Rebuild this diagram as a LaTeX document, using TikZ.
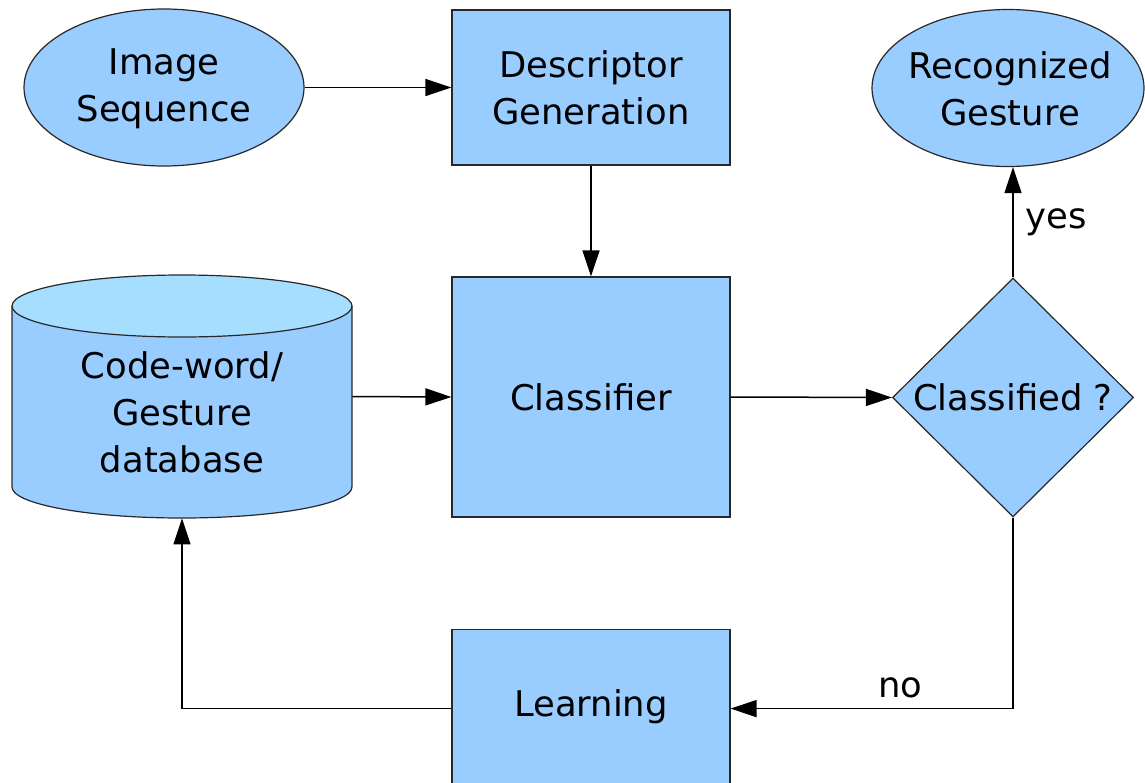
\documentclass[tikz,border=0pt]{standalone}
\usepackage{fontspec}
\setmainfont{DejaVu Sans}
\usetikzlibrary{shapes.geometric,arrows.meta}
\definecolor{boxfill}{RGB}{153,204,255}
\definecolor{topfill}{RGB}{166,222,255}
\definecolor{edgecol}{RGB}{40,40,40}
\begin{document}
\begin{tikzpicture}[x=0.5pt,y=-0.5pt,
  every node/.style={font=\fontsize{17.7pt}{23.5pt}\selectfont},
  shapebox/.style={draw=edgecol,line width=0.6pt,fill=boxfill,inner sep=0pt},
  procbox/.style={shapebox,rectangle,minimum width=139pt},
  termell/.style={shapebox,ellipse},
  txt/.style={align=center,inner sep=0pt},
  conn/.style={line width=0.75pt,-{Triangle[length=13pt,width=8.5pt]}}]
\useasboundingbox (0,0) rectangle (1145,782);
% nodes
\node[termell,minimum width=140pt,minimum height=78.5pt] (img) at (164,87.5) {};
\node[txt] (imgt) at (164,89) {Image\\Sequence};
\node[procbox,minimum height=77.5pt,txt,draw=edgecol,fill=boxfill] (desc) at (591,87.5) {Descriptor\\Generation};
\node[termell,minimum width=136pt,minimum height=78.5pt] (rec) at (1008,88) {};
\node[txt] (rect) at (1010,89) {Recognized\\Gesture};
\node[procbox,minimum height=120pt] (cls) at (591,397) {Classifier};
\node[shapebox,diamond,minimum width=120.5pt,minimum height=119.5pt,aspect=1] (dec) at (1013,397.5) {};
\node[txt] (dect) at (1013,397.5) {Classified ?};
% cylinder
\node[inner sep=0pt,minimum width=170pt,minimum height=121.5pt] (db) at (182,396.5) {};
\fill[boxfill] (12,306) -- (12,487) arc[start angle=180,end angle=0,x radius=170,y radius=31] -- (352,306) -- cycle;
\draw[edgecol,line width=0.6pt] (12,306) -- (12,487) arc[start angle=180,end angle=0,x radius=170,y radius=31] -- (352,306);
\draw[edgecol,line width=0.6pt,fill=topfill] (182,306) ellipse[x radius=170,y radius=31];
\node[txt] (dbt) at (182,412) {Code-word/\\Gesture\\database};
\node[procbox,minimum height=79pt,anchor=north] (learn) at (591,629) {};
\node[txt] (learnt) at (591,707) {Learning};
% connectors
\draw[conn] (img.east) -- (desc.west);
\draw[conn] (desc.south) -- (cls.north);
\draw[conn] (db.east) -- (cls.west);
\draw[conn] (cls.east) -- (dec.west);
\draw[conn] (dec.north) -- (dec.north |- rec.south) node[pos=0.5,right=6pt,txt] (yes) {yes};
\draw[conn] (dec.south) |- (learn.east) node[pos=0.7,above=5pt,txt] (no) {no};
\draw[conn] (learn.west) -| (db.south);
\end{tikzpicture}
\end{document}
